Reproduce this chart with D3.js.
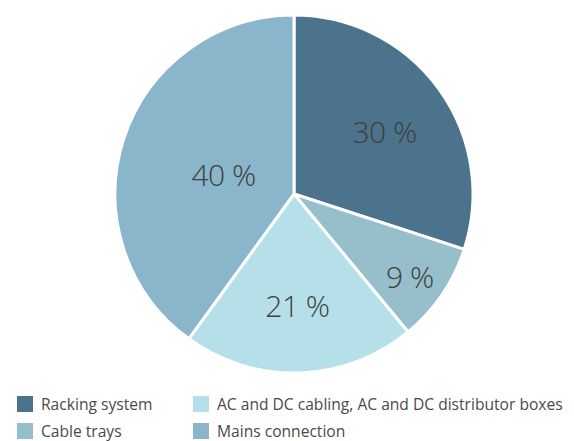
<!DOCTYPE html>
<html>
<head>
  <meta charset="utf-8">
  <script src="https://d3js.org/d3.v7.min.js"></script>
  <style>
    body { margin: 0; background: #fff; }
    svg text { font-family: "Open Sans", "Noto Sans", sans-serif; fill: #3f3f3f; }
  </style>
</head>
<body>
  <script>
    var categories = ["Racking system", "Cable trays", "AC and DC cabling, AC and DC distributor boxes", "Mains connection"];
    var values = [30, 9, 21, 40];
    var labels = ["30 %", "9 %", "21 %", "40 %"];
    var colors = ["#4b738b", "#96bfcb", "#b5e0ea", "#89b6ca"];
    // legend order (as printed, two columns)
    var legendOrder = [0, 1, 2, 3];

    var width = 574, height = 441;
    var cx = 294, cy = 194, radius = 179;
    var labelRadius = [112, 140, 108, 74];

    var svg = d3.select("body").append("svg")
      .attr("width", width)
      .attr("height", height);

    var pie = d3.pie().sort(null).value(function(d) { return d; });
    var arcs = pie(values);
    var arc = d3.arc().innerRadius(0).outerRadius(radius);

    var g = svg.append("g").attr("transform", "translate(" + cx + "," + cy + ")");

    g.selectAll("path")
      .data(arcs)
      .enter()
      .append("path")
      .attr("d", arc)
      .attr("fill", function(d, i) { return colors[i]; })
      .attr("stroke", "#fff")
      .attr("stroke-width", 3)
      .attr("stroke-linejoin", "round");

    g.selectAll("text.lbl")
      .data(arcs)
      .enter()
      .append("text")
      .attr("class", "lbl")
      .attr("transform", function(d, i) {
        var a = d3.arc().innerRadius(labelRadius[i]).outerRadius(labelRadius[i]);
        return "translate(" + a.centroid(d) + ")";
      })
      .attr("text-anchor", "middle")
      .attr("dy", "0.5em")
      .style("font-size", "30px")
      .style("font-weight", 300)
      .style("letter-spacing", "-0.5px")
      .text(function(d, i) { return labels[i]; });

    var legend = svg.append("g").attr("transform", "translate(17,396)");
    var item = legend.selectAll("g")
      .data(legendOrder)
      .enter()
      .append("g")
      .attr("transform", function(d, i) {
        var col = Math.floor(i / 2), row = i % 2;
        return "translate(" + (col * 176) + "," + (row * 27) + ")";
      });

    item.append("rect")
      .attr("width", 16)
      .attr("height", 16)
      .attr("fill", function(d) { return colors[d]; });

    item.append("text")
      .attr("x", 24)
      .attr("y", 14)
      .style("font-size", "15.6px")
      .style("fill", "#4a4a4a")
      .text(function(d) { return categories[d]; });
  </script>
</body>
</html>
